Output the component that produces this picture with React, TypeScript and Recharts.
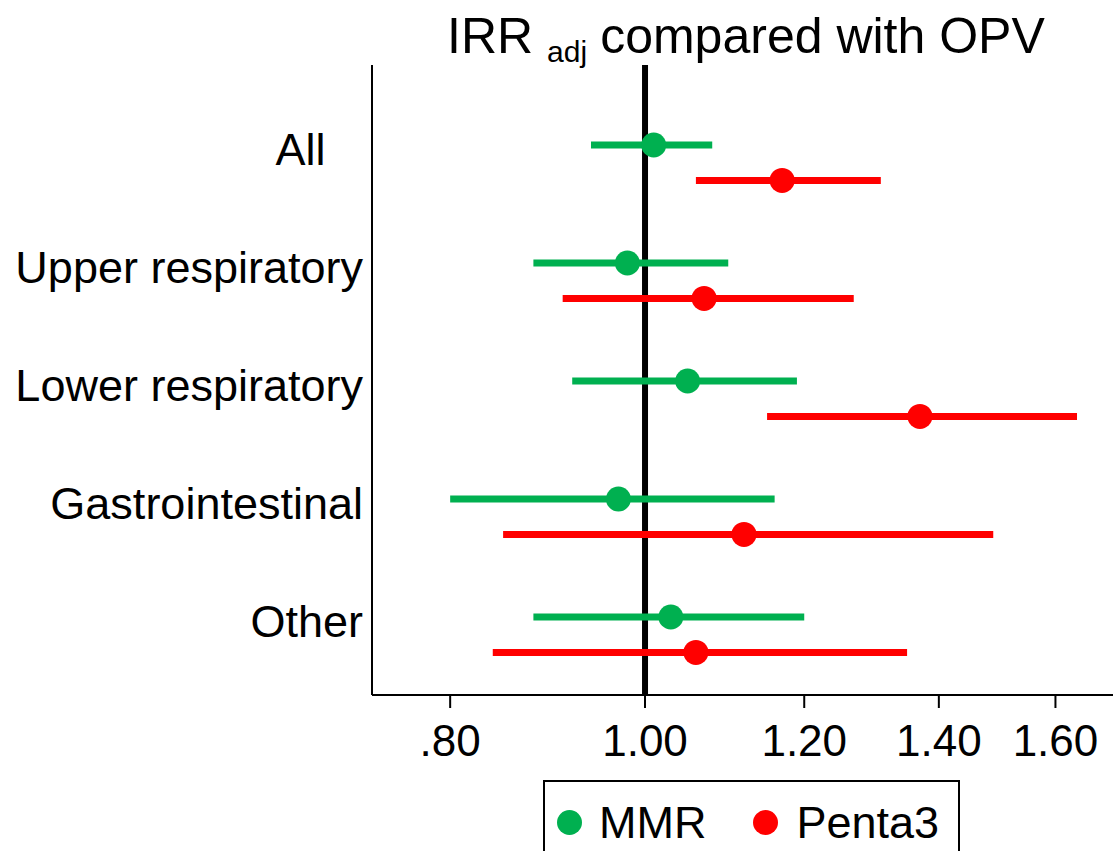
import {
  ScatterChart,
  Scatter,
  XAxis,
  YAxis,
  ErrorBar,
  ReferenceLine,
  Legend,
  Customized
} from "recharts";

const categories = ["All\u00A0\u00A0\u00A0", "Upper respiratory", "Lower respiratory", "Gastrointestinal", "Other"];

const mmrEst = [1.01, 0.98, 1.05, 0.97, 1.03];
const mmrLo = [0.94, 0.88, 0.92, 0.8, 0.88];
const mmrHi = [1.08, 1.1, 1.19, 1.16, 1.2];

const pentaEst = [1.17, 1.07, 1.37, 1.12, 1.06];
const pentaLo = [1.06, 0.91, 1.15, 0.85, 0.84];
const pentaHi = [1.31, 1.27, 1.64, 1.49, 1.35];

const xTicks = [0.8, 1.0, 1.2, 1.4, 1.6];

const GREEN = "#00b050";
const RED = "#ff0000";
const FONT = "'Liberation Sans', Arial, sans-serif";

const ROW_GAP = 0.3;

const mmrData = categories.map((_c, i) => ({
  x: mmrEst[i],
  y: i,
  err: [mmrEst[i] - mmrLo[i], mmrHi[i] - mmrEst[i]]
}));

const pentaData = categories.map((_c, i) => ({
  x: pentaEst[i],
  y: i + ROW_GAP,
  err: [pentaEst[i] - pentaLo[i], pentaHi[i] - pentaEst[i]]
}));

const dot = (color: string) => (props: any) =>
  <circle cx={props.cx} cy={props.cy} r={12.5} fill={color} />;

const CategoryTick = (props: any) => {
  const { x, y, payload } = props;
  return (
    <text
      x={x - 1}
      y={y + 4}
      dy="0.355em"
      textAnchor="end"
      fontFamily={FONT}
      fontSize={45}
      fill="#000"
    >
      {categories[payload.value]}
    </text>
  );
};

const Title = () => (
  <text x={447} y={53} fontFamily={FONT} fontSize={50} fill="#000">
    IRR
    <tspan fontSize={30} dx={14} dy={9}>adj</tspan>
    <tspan dx={13} dy={-9}>compared with OPV</tspan>
  </text>
);

const LegendBox = () => (
  <div
    style={{
      boxSizing: "border-box",
      width: 417,
      height: 71,
      border: "2px solid #000",
      borderBottom: "none",
      display: "flex",
      alignItems: "center",
      fontFamily: FONT,
      fontSize: 45,
      color: "#000",
      paddingTop: 12
    }}
  >
    <span style={{ width: 25, height: 25, borderRadius: "50%", background: GREEN, marginLeft: 12 }} />
    <span style={{ marginLeft: 17 }}>MMR</span>
    <span style={{ width: 25, height: 25, borderRadius: "50%", background: RED, marginLeft: 47 }} />
    <span style={{ marginLeft: 18 }}>Penta3</span>
  </div>
);

export default function App() {
  return (
    <div style={{ position: "absolute", left: 0, top: 0, width: 1113, height: 851, overflow: "hidden", background: "#fff" }}>
      <ScatterChart width={1113} height={851} margin={{ top: 65, right: 0, bottom: 76, left: 0 }}>
        <XAxis
          type="number"
          dataKey="x"
          scale="log"
          domain={[0.7315, 1.709]}
          allowDataOverflow
          ticks={xTicks}
          tickFormatter={(v: number) => (v < 1 ? ".80" : v.toFixed(2))}
          height={80}
          stroke="#000"
          strokeWidth={2}
          tickSize={13}
          tickMargin={17}
          tick={{ fill: "#000", fontSize: 44, fontFamily: FONT }}
        />
        <YAxis
          type="number"
          dataKey="y"
          reversed
          domain={[-0.678, 4.661]}
          allowDataOverflow
          ticks={[0, 1, 2, 3, 4]}
          width={372}
          stroke="#000"
          strokeWidth={2}
          tickLine={false}
          tick={<CategoryTick />}
        />
        <ReferenceLine x={1} stroke="#000" strokeWidth={6} />
        <Scatter data={mmrData} fill={GREEN} shape={dot(GREEN)} isAnimationActive={false}>
          <ErrorBar dataKey="err" direction="x" width={0} stroke={GREEN} strokeWidth={7} />
        </Scatter>
        <Scatter data={pentaData} fill={RED} shape={dot(RED)} isAnimationActive={false}>
          <ErrorBar dataKey="err" direction="x" width={0} stroke={RED} strokeWidth={7} />
        </Scatter>
        <Legend
          layout="vertical"
          align="center"
          verticalAlign="middle"
          wrapperStyle={{ left: 543, top: 780, width: 417, height: 71 }}
          content={<LegendBox />}
        />
        <Customized component={Title} />
      </ScatterChart>
    </div>
  );
}
